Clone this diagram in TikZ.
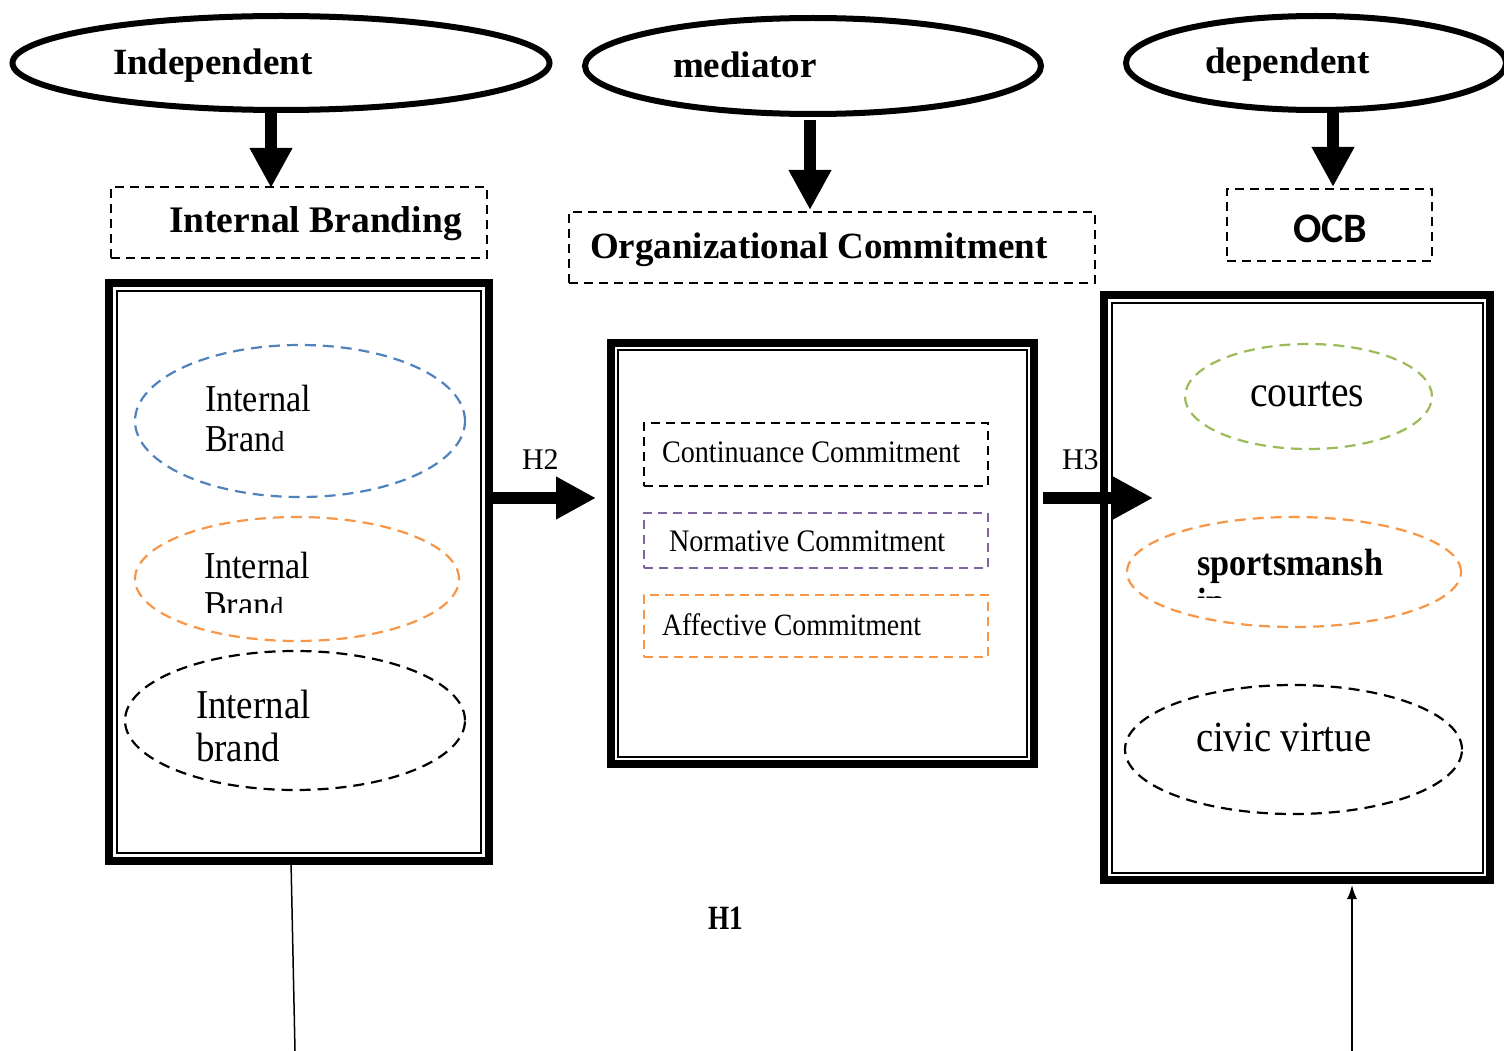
\documentclass[tikz,border=0pt]{standalone}
\usepackage{fontspec}
\setmainfont{Liberation Serif}
\newfontfamily\condserif[FakeStretch=0.9]{Liberation Serif}
\newfontfamily\narrowserif[FakeStretch=0.8]{Liberation Serif}
\newfontfamily\calibfont{Carlito}
\usetikzlibrary{shapes.geometric,arrows.meta,calc}
\newcommand\setsz[1]{\fontsize{#1pt}{#1pt}\selectfont}
\definecolor{offblue}{HTML}{4F81BD}
\definecolor{offorange}{HTML}{F79646}
\definecolor{offgreen}{HTML}{9BBB59}
\definecolor{offpurple}{HTML}{8064A2}
\begin{document}
\begin{tikzpicture}[x=1pt,y=-1pt,
  txt/.style={anchor=base west,inner sep=0pt,outer sep=0pt},
  headell/.style={draw,ellipse,line width=6pt,inner sep=0pt,outer sep=0pt},
  dbox/.style={draw,rectangle,line width=2pt,dash pattern=on 9pt off 6pt,inner sep=0pt,outer sep=0pt},
  dell/.style={draw,ellipse,line width=2.2pt,dash pattern=on 11pt off 7pt,inner sep=0pt,outer sep=0pt},
  frame/.style={draw,rectangle,line width=8pt,inner sep=0pt,outer sep=0pt},
  innerframe/.style={line width=2pt},
  blockarrow/.style={line width=12pt,-{Triangle[length=40pt,width=40pt]}},
  thinline/.style={line width=1.5pt}]
\useasboundingbox (0,0) rectangle (1504,1051);

% variable-type ellipses
\node[headell,minimum width=537pt,minimum height=94pt] (ind) at (281,63) {};
\node[headell,minimum width=456pt,minimum height=96pt] (med) at (813,66) {};
\node[headell,minimum width=380pt,minimum height=94pt] (dep) at (1316,63) {};
\node[txt] (indt) at (113,75) {\setsz{37}\bfseries Independent};
\node[txt] (medt) at (673,78) {\setsz{37}\bfseries mediator};
\node[txt] (dept) at (1205,74) {\setsz{37}\bfseries dependent};

% construct names
\node[dbox,minimum width=376pt,minimum height=71pt] (ib) at (299,222.5) {};
\node[dbox,minimum width=526pt,minimum height=71pt] (oc) at (832,247.5) {};
\node[dbox,minimum width=205pt,minimum height=72pt] (ocb) at (1329.5,225) {};
\node[txt] (ibt) at (169,233) {\setsz{37.5}\bfseries Internal Branding};
\node[txt] (oct) at (590,258) {\setsz{37}\bfseries Organizational Commitment};
\node[txt] (ocbt) at (1293,242) {\calibfont\setsz{42}\bfseries OCB};

\draw[blockarrow] ([xshift=-10pt]ind.south) -- ([xshift=-28pt,yshift=-1pt]ib.north);
\draw[blockarrow] ([xshift=-3pt,yshift=-6pt]med.south) -- ([xshift=-22pt,yshift=2pt]oc.north);
\draw[blockarrow] ([xshift=17pt]dep.south) -- ([xshift=3.5pt,yshift=2pt]ocb.north);

% framed groups
\node[frame,minimum width=380pt,minimum height=578pt] (lbox) at (299,572) {};
\draw[innerframe] ([xshift=8pt,yshift=-8pt]lbox.north west) rectangle ([xshift=-8pt,yshift=8pt]lbox.south east);
\node[frame,minimum width=423pt,minimum height=421pt] (mbox) at (822,553.5) {};
\draw[innerframe] ([xshift=7pt,yshift=-7pt]mbox.north west) rectangle ([xshift=-7pt,yshift=7pt]mbox.south east);
\node[frame,minimum width=386pt,minimum height=585pt] (rbox) at (1297,587.5) {};
\draw[innerframe] ([xshift=7.5pt,yshift=-7.5pt]rbox.north west) rectangle ([xshift=-7.5pt,yshift=7.5pt]rbox.south east);

% internal branding dimensions
\node[dell,draw=offblue,minimum width=330pt,minimum height=152pt] (e1) at (300,421) {};
\node[txt] (e1a) at (205,411) {\condserif\setsz{38}Internal};
\node[txt] (e1b) at (205,451) {\condserif\setsz{38}Bran{\setsz{29}d}};
\node[dell,draw=offorange,minimum width=324pt,minimum height=124pt] (e2) at (297,579) {};
\node[txt] (e2a) at (204,578) {\condserif\setsz{38}Internal};
\begin{scope}
  \clip (150,580) rectangle (450,612);
  \node[txt] (e2b) at (204,617) {\condserif\setsz{38}Bran{\setsz{29}d}};
\end{scope}
\node[dell,minimum width=340pt,minimum height=139pt] (e3) at (295,720.5) {};
\node[txt] (e3a) at (196,718) {\condserif\setsz{41}Internal};
\node[txt] (e3b) at (196,761) {\condserif\setsz{41}brand};

% commitment dimensions
\node[dbox,minimum width=344pt,minimum height=63pt] (cc) at (816,454.5) {};
\node[dbox,draw=offpurple,minimum width=344pt,minimum height=55pt] (nc) at (816,540.5) {};
\node[dbox,draw=offorange,minimum width=344pt,minimum height=62pt] (ac) at (816,626) {};
\node[txt] (cct) at (662,462) {\condserif\setsz{31.3}Continuance Commitment};
\node[txt] (nct) at (669,551) {\condserif\setsz{31.3}Normative Commitment};
\node[txt] (act) at (662,635) {\condserif\setsz{31}Affective Commitment};

% OCB dimensions
\node[dell,draw=offgreen,minimum width=247pt,minimum height=105pt] (e4) at (1308.5,396.5) {};
\node[txt] (e4t) at (1250,406) {\condserif\setsz{44}courtes};
\node[dell,draw=offorange,minimum width=334pt,minimum height=110pt] (e5) at (1294,572) {};
\node[txt] (e5a) at (1197,575) {\condserif\setsz{38}\bfseries sportsmansh};
\begin{scope}
  \clip (1150,580) rectangle (1450,597);
  \node[txt] (e5b) at (1197,614) {\condserif\setsz{38}\bfseries ip};
\end{scope}
\node[dell,minimum width=337pt,minimum height=129pt] (e6) at (1293.5,749.5) {};
\node[txt] (e6t) at (1196,751) {\condserif\setsz{43}civic virtue};

% hypothesis paths
\coordinate (h2tip) at (596,498);
\coordinate (h3tip) at (1153,498);
\draw[blockarrow] (lbox.east |- h2tip) -- (h2tip);
\draw[blockarrow] ([xshift=9.5pt]mbox.east |- h3tip) -- (h3tip);
\node[txt] (h2) at (522,469) {\setsz{30}H2};
\node[txt] (h3) at (1062,469) {\setsz{30}H3};
\node[txt] (h1) at (708,929) {\narrowserif\setsz{34}\bfseries H1};

\coordinate (lfoot) at (295,1051);
\coordinate (rfoot) at (1352,1051);
\draw[thinline] ([xshift=-8pt]lbox.south) -- (lfoot);
\draw[thinline,-{Latex[length=14pt,width=10pt]}] (rfoot) -- ([xshift=55pt,yshift=-5pt]rbox.south);
\end{tikzpicture}
\end{document}
